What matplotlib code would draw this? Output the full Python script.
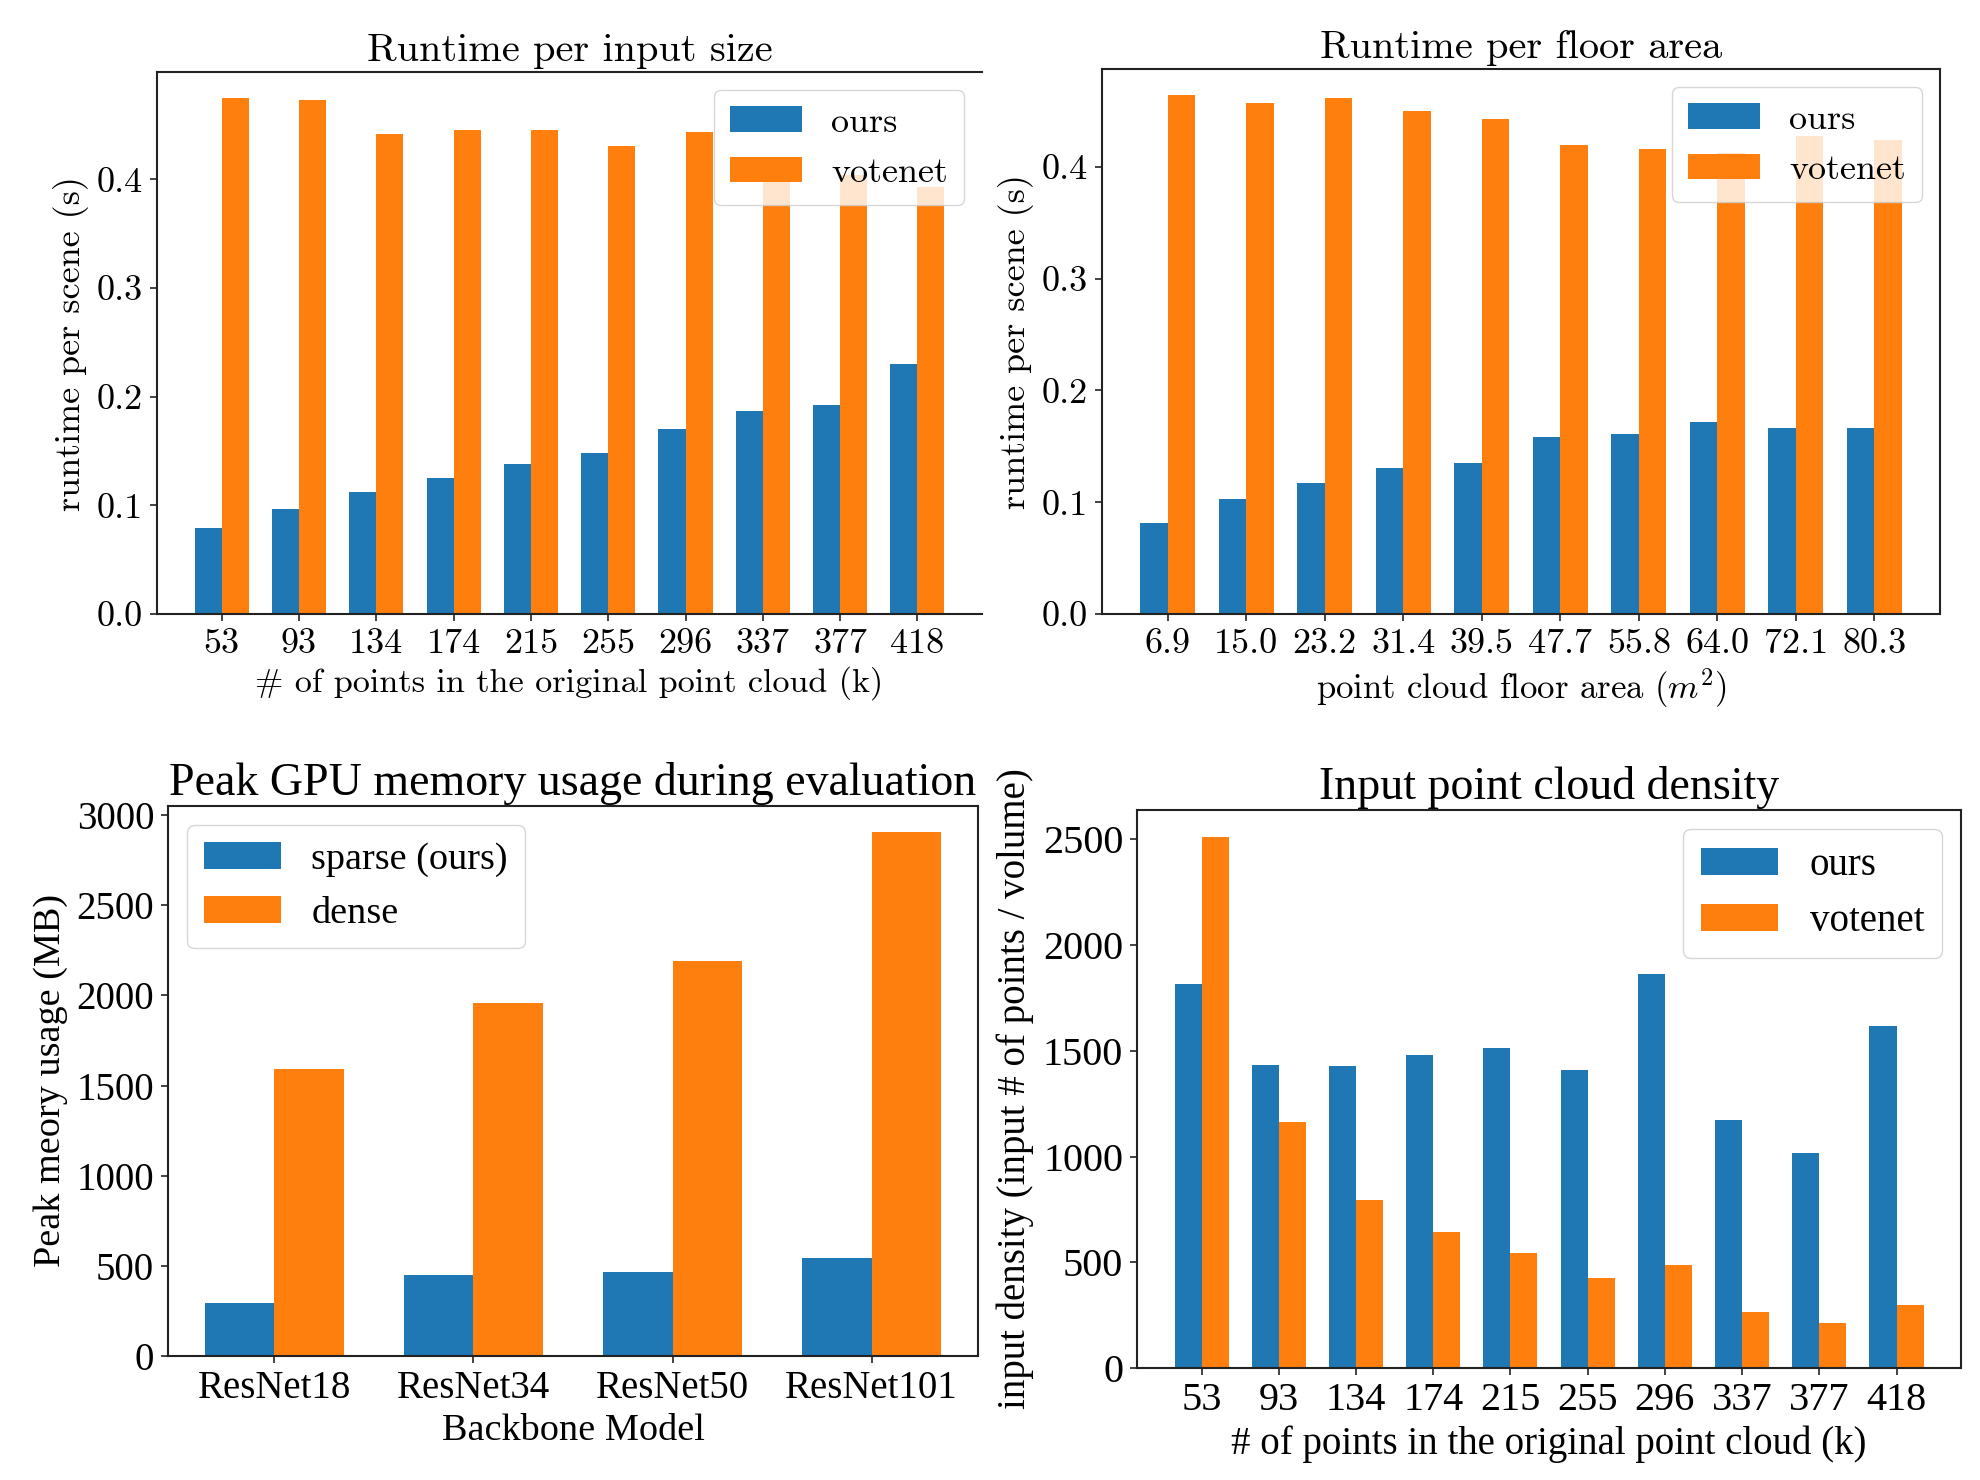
import matplotlib
matplotlib.use("Agg")
import matplotlib.pyplot as plt
import numpy as np

plt.rcParams['mathtext.fontset'] = 'cm'
plt.rcParams['axes.formatter.use_mathtext'] = True

BLUE = '#1f77b4'
ORANGE = '#ff7f0e'

# ---- data ----
pts_labels = ['53', '93', '134', '174', '215', '255', '296', '337', '377', '418']
rt_size_ours = [0.079, 0.097, 0.112, 0.125, 0.138, 0.148, 0.170, 0.187, 0.192, 0.230]
rt_size_votenet = [0.475, 0.4735, 0.442, 0.445, 0.445, 0.431, 0.444, 0.398, 0.404, 0.393]

area_labels = ['6.9', '15.0', '23.2', '31.4', '39.5', '47.7', '55.8', '64.0', '72.1', '80.3']
rt_area_ours = [0.0816, 0.103, 0.117, 0.131, 0.135, 0.158, 0.161, 0.172, 0.166, 0.166]
rt_area_votenet = [0.464, 0.4566, 0.4615, 0.450, 0.443, 0.419, 0.416, 0.412, 0.427, 0.424]

backbones = ['ResNet18', 'ResNet34', 'ResNet50', 'ResNet101']
mem_sparse = [295, 447, 466, 544]
mem_dense = [1590, 1959, 2192, 2906]

dens_ours = [1815, 1434, 1429, 1479, 1512, 1409, 1864, 1175, 1015, 1617]
dens_votenet = [2513, 1162, 794, 645, 546, 424, 486, 263, 214, 299]

W = 0.35

fig = plt.figure(figsize=(19.81, 14.80), dpi=100)

def style_axes(ax, family, tick_fs, hide_right=False):
    for s in ax.spines.values():
        s.set_linewidth(1.5)
        s.set_color('#222222')
    if hide_right:
        ax.spines['right'].set_visible(False)
    ax.tick_params(length=5, width=1.2, labelsize=tick_fs, color='#222222', pad=5)
    for lbl in ax.get_xticklabels() + ax.get_yticklabels():
        lbl.set_fontfamily(family)

def grouped(ax, cats, a, b, la, lb, family, title, title_fs, xlabel, ylabel, xlabel_fs,
            ylabel_fs, tick_fs, leg_fs, yticks, ytick_labels, loc_leg, hide_right=False):
    x = np.arange(len(cats))
    ax.bar(x - W / 2, a, W, color=BLUE, label=la)
    ax.bar(x + W / 2, b, W, color=ORANGE, label=lb)
    ax.set_xticks(x)
    ax.set_xticklabels(cats)
    ax.set_yticks(yticks)
    ax.set_yticklabels(ytick_labels)
    ax.set_title(title, fontsize=title_fs, fontfamily=family, pad=8)
    ax.set_xlabel(xlabel, fontsize=xlabel_fs, fontfamily=family, labelpad=5)
    ax.set_ylabel(ylabel, fontsize=ylabel_fs, fontfamily=family, labelpad=6)
    style_axes(ax, family, tick_fs, hide_right)
    leg = ax.legend(loc=loc_leg, prop={'family': family, 'size': leg_fs},
                    handlelength=2.0, handleheight=0.7, borderpad=0.45,
                    handletextpad=0.8, labelspacing=0.5, framealpha=0.8)
    return leg

CM = 'cmr10'
TM = 'Liberation Serif'

ax1 = fig.add_axes([0.0793, 0.5851, 0.4164, 0.3662])
grouped(ax1, pts_labels, rt_size_ours, rt_size_votenet, 'ours', 'votenet', CM,
        'Runtime per input size', 29, '# of points in the original point cloud (k)',
        'runtime per scene (s)', 24.6, 26, 26, 26,
        [0.0, 0.1, 0.2, 0.3, 0.4], ['0.0', '0.1', '0.2', '0.3', '0.4'], 'upper right',
        hide_right=True)

ax2 = fig.add_axes([0.5563, 0.5851, 0.4230, 0.3682])
grouped(ax2, area_labels, rt_area_ours, rt_area_votenet, 'ours', 'votenet', CM,
        'Runtime per floor area', 29, 'point cloud floor area ($m^2$)',
        'runtime per scene (s)', 25, 26, 26, 26,
        [0.0, 0.1, 0.2, 0.3, 0.4], ['0.0', '0.1', '0.2', '0.3', '0.4'], 'upper right')

ax3 = fig.add_axes([0.0848, 0.0838, 0.4089, 0.3716])
grouped(ax3, backbones, mem_sparse, mem_dense, 'sparse (ours)', 'dense', TM,
        'Peak GPU memory usage during evaluation', 33, 'Backbone Model',
        'Peak meory usage (MB)', 27.5, 27.5, 28, 27.5,
        [0, 500, 1000, 1500, 2000, 2500, 3000],
        ['0', '500', '1000', '1500', '2000', '2500', '3000'], 'upper left')

ax4 = fig.add_axes([0.5740, 0.0757, 0.4159, 0.3770])
grouped(ax4, pts_labels, dens_ours, dens_votenet, 'ours', 'votenet', TM,
        'Input point cloud density', 33, '# of points in the original point cloud (k)',
        'input density (input # of points / volume)', 28, 28, 29, 28,
        [0, 500, 1000, 1500, 2000, 2500],
        ['0', '500', '1000', '1500', '2000', '2500'], 'upper right')

fig.savefig('out.png', dpi=100)
